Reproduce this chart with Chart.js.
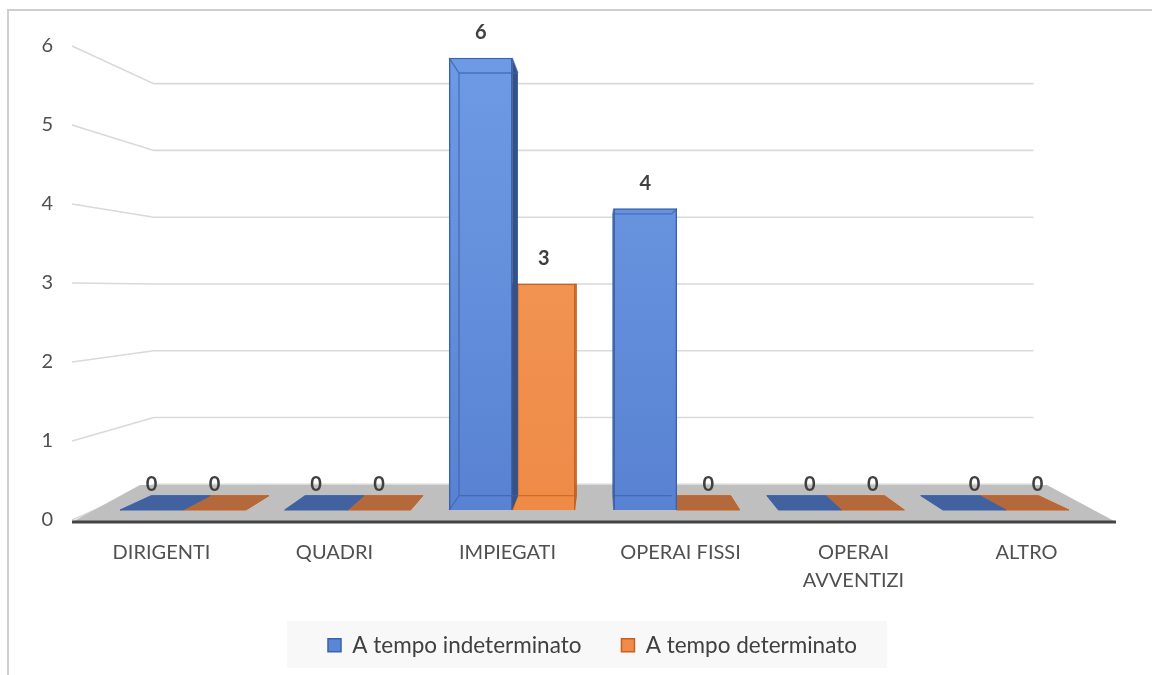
<!DOCTYPE html>
<html><head><meta charset="utf-8">
<script src="https://cdn.jsdelivr.net/npm/chart.js@4.4.1/dist/chart.umd.min.js"></script>
<style>html,body{margin:0;padding:0;background:#fff;}#wrap{width:1152px;height:675px;}</style>
</head><body><div id="wrap"><canvas id="c" width="1152" height="675"></canvas></div>
<script>
// ---- data ----
const categories = ['DIRIGENTI', 'QUADRI', 'IMPIEGATI', 'OPERAI FISSI', ['OPERAI', 'AVVENTIZI'], 'ALTRO'];
const seriesNames = ['A tempo indeterminato', 'A tempo determinato'];
const indeterminato = [0, 0, 6, 4, 0, 0];
const determinato = [0, 0, 3, 0, 0, 0];
const yMin = 0, yMax = 6, yStep = 1;

// ---- styles ----
const FONT = 'Lato, "Open Sans", sans-serif';
const styles = [
  {top: '#6E9BE5', bottom: '#5882D1', legend: '#5B86D6', border: '#3A62AD', side: '#33518B', flat: '#41619F'},
  {top: '#F69C5E', bottom: '#EE8A46', legend: '#F08C4B', border: '#C9601A', side: '#BE5717', flat: '#B4693C'}
];
const VP = {x: 600, y: 289};
const BAR_K = 0.935, WALL_K = 0.845;
const LEGEND_START_X = 328;
function toBack(px, py, k) { return [VP.x + (px - VP.x) * k, VP.y + (py - VP.y) * k]; }

function barFill(si) {
  return (c) => {
    const chart = c.chart, ca = chart.chartArea;
    if (!ca || c.type !== 'data') return styles[si].legend;
    const g = chart.ctx.createLinearGradient(0, ca.bottom, 0, ca.top);
    g.addColorStop(0, styles[si].bottom);
    g.addColorStop(1, styles[si].top);
    return g;
  };
}

const scenePlugin = {
  id: 'scene',
  beforeDraw(chart) {
    const ctx = chart.ctx;
    ctx.save();
    ctx.strokeStyle = '#cfcfcf';
    ctx.lineWidth = 2;
    ctx.strokeRect(8, 10, 1200, 720);
    const lg = chart.legend;
    if (lg && lg.legendHitBoxes && lg.legendHitBoxes.length) {
      const hb = lg.legendHitBoxes;
      if (!lg._shifted) {
        const shift = LEGEND_START_X - hb[0].left;
        lg.left += shift; lg.right += shift;
        hb.forEach(h => { h.left += shift; });
        lg._shifted = true;
      }
      const l = hb[0].left - 41;
      const r = hb[hb.length - 1].left + hb[hb.length - 1].width + 30;
      ctx.fillStyle = '#f8f8f8';
      ctx.fillRect(l, lg.top + 27, r - l, 47);
    }
    ctx.restore();
  },
  beforeDatasetsDraw(chart) {
    const ctx = chart.ctx, ca = chart.chartArea, ys = chart.scales.y;
    ctx.save();
    ctx.strokeStyle = '#d9d9d9';
    ctx.lineWidth = 1.6;
    for (let v = yMin; v <= yMax; v += yStep) {
      const yF = ys.getPixelForValue(v);
      const xF = ca.left - 3;
      const [xb, yb] = toBack(xF, yF, WALL_K);
      const [xr] = toBack(ca.right, yF, WALL_K);
      ctx.beginPath();
      ctx.moveTo(xF, yF); ctx.lineTo(xb, yb); ctx.lineTo(xr, yb);
      ctx.stroke();
    }
    const fy = ca.bottom + 2;
    const backY = 485;
    ctx.fillStyle = '#bfbfbf';
    ctx.beginPath();
    ctx.moveTo(ca.left - 3, fy);
    ctx.lineTo(140, backY);
    ctx.lineTo(1047, backY);
    ctx.lineTo(ca.right + 3, fy);
    ctx.closePath();
    ctx.fill();
    ctx.strokeStyle = '#444';
    ctx.lineWidth = 3;
    ctx.beginPath();
    ctx.moveTo(ca.left - 3, fy); ctx.lineTo(ca.right + 3, fy);
    ctx.stroke();
    ctx.restore();
  },
  afterDatasetDraw(chart, args) {
    const ctx = chart.ctx, meta = args.meta, st = styles[args.index];
    const vals = chart.data.datasets[args.index].data;
    ctx.save();
    meta.data.forEach((el, i) => {
      const v = vals[i].y;
      const {x, y, base, width} = el.getProps(['x', 'y', 'base', 'width'], true);
      const L = x - width / 2, R = x + width / 2;
      if (v === 0) {
        const [bl, by] = toBack(L, base, BAR_K);
        const [br] = toBack(R, base, BAR_K);
        ctx.fillStyle = st.flat;
        ctx.strokeStyle = st.border;
        ctx.lineWidth = 1;
        ctx.beginPath();
        ctx.moveTo(L, base); ctx.lineTo(R, base); ctx.lineTo(br, by); ctx.lineTo(bl, by);
        ctx.closePath();
        ctx.fill(); ctx.stroke();
        return;
      }
      const [tlx, tly] = toBack(L, y, BAR_K);
      const [trx] = toBack(R, y, BAR_K);
      const [blx, bly] = toBack(L, base, BAR_K);
      const [brx] = toBack(R, base, BAR_K);
      ctx.fillStyle = st.side;
      if (trx > R + 0.5) {
        ctx.beginPath();
        ctx.moveTo(R, y); ctx.lineTo(trx, tly); ctx.lineTo(brx, bly); ctx.lineTo(R, base);
        ctx.closePath(); ctx.fill();
      }
      if (tlx < L - 0.5) {
        ctx.beginPath();
        ctx.moveTo(L, y); ctx.lineTo(tlx, tly); ctx.lineTo(blx, bly); ctx.lineTo(L, base);
        ctx.closePath(); ctx.fill();
      }
      ctx.strokeStyle = st.border;
      ctx.globalAlpha = 0.75;
      ctx.lineWidth = 1.3;
      ctx.beginPath();
      ctx.moveTo(L, y); ctx.lineTo(tlx, tly); ctx.lineTo(trx, tly);
      ctx.moveTo(tlx, tly); ctx.lineTo(blx, bly); ctx.lineTo(brx, bly);
      ctx.moveTo(blx, bly); ctx.lineTo(L, base);
      ctx.moveTo(R, y); ctx.lineTo(trx, tly);
      ctx.stroke();
      ctx.globalAlpha = 1;
    });
    ctx.restore();
  },
  afterDatasetsDraw(chart) {
    const ctx = chart.ctx;
    ctx.save();
    ctx.font = 'bold 20px ' + FONT;
    ctx.fillStyle = '#404040';
    ctx.textAlign = 'center';
    ctx.textBaseline = 'middle';
    chart.data.datasets.forEach((ds, di) => {
      chart.getDatasetMeta(di).data.forEach((el, i) => {
        const {x, y} = el.getProps(['x', 'y'], true);
        ctx.fillText(String(ds.data[i].y), x, y - 25);
      });
    });
    ctx.restore();
  }
};

const seriesValues = [indeterminato, determinato];
new Chart(document.getElementById('c'), {
  type: 'bar',
  data: {
    labels: categories,
    datasets: seriesValues.map((vals, si) => ({
      label: seriesNames[si],
      data: vals.map((v, i) => ({x: i, y: v})),
      xAxisID: 'xb',
      yAxisID: 'yb',
      backgroundColor: barFill(si),
      borderColor: styles[si].border,
      borderWidth: 1.5,
      barThickness: 63
    }))
  },
  options: {
    responsive: false,
    animation: false,
    devicePixelRatio: 1,
    layout: {padding: {top: 46, left: 0, right: 39, bottom: 8.5}},
    plugins: {
      tooltip: {enabled: false},
      legend: {
        position: 'bottom',
        labels: {
          font: {family: FONT, size: 22.5},
          color: '#404040',
          boxWidth: 13, boxHeight: 13, padding: 40,
          generateLabels: (chart) => chart.data.datasets.map((ds, i) => ({
            text: ds.label, fillStyle: styles[i].legend, strokeStyle: styles[i].border,
            lineWidth: 1.5, datasetIndex: i, hidden: false, fontColor: '#404040'
          }))
        }
      }
    },
    scales: {
      x: {
        type: 'category',
        position: 'bottom',
        offset: true,
        grid: {display: false, drawTicks: false},
        border: {display: false},
        ticks: {font: {family: FONT, size: 20, lineHeight: 1.4}, color: '#505050', padding: 19, maxRotation: 0, autoSkip: false},
        afterFit: s => { s.height = 74; }
      },
      xb: {
        type: 'linear', display: false, offset: false,
        min: -0.656, max: 5.65,
        grid: {offset: false}
      },
      y: {
        type: 'linear', position: 'left',
        min: yMin, max: yMax,
        grid: {display: false, drawTicks: false},
        border: {display: false},
        ticks: {stepSize: yStep, font: {family: FONT, size: 20}, color: '#505050', padding: 22},
        afterFit: s => { s.width = 75; }
      },
      yb: {
        type: 'linear', display: false, position: 'left',
        min: -0.1327, max: 6.159
      }
    }
  },
  plugins: [scenePlugin]
});
</script>
</body></html>
